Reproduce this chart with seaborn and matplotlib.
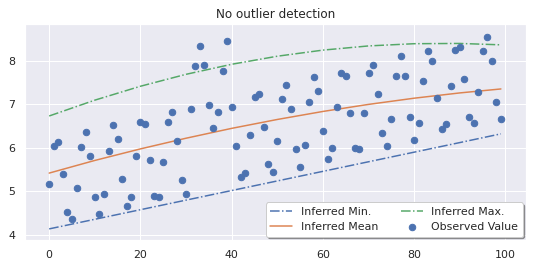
import numpy as np
import pandas as pd
import matplotlib
matplotlib.use("Agg")
import matplotlib.pyplot as plt
import seaborn as sns

# Observed values (x = 0..99)
obs_x = list(range(100))
obs_y = [5.18, 6.04, 6.13, 5.40, 4.52, 4.36, 5.07, 6.02, 6.36, 5.81,
         4.88, 4.47, 4.95, 5.93, 6.52, 6.20, 5.29, 4.66, 4.88, 5.81,
         6.59, 6.55, 5.72, 4.90, 4.88, 5.68, 6.60, 6.82, 6.16, 5.25,
         4.95, 6.90, 7.87, 8.33, 7.90, 6.98, 6.46, 6.82, 7.77, 8.46,
         6.93, 6.05, 5.32, 5.43, 6.30, 7.16, 7.23, 6.48, 5.62, 5.45,
         6.16, 7.12, 7.45, 6.88, 5.98, 5.57, 6.07, 7.05, 7.62, 7.30,
         6.39, 5.75, 6.00, 6.94, 7.71, 7.64, 6.80, 6.00, 5.98, 6.80,
         7.71, 7.91, 7.24, 6.35, 6.05, 6.66, 7.64, 8.10, 7.64, 6.70,
         6.19, 6.56, 7.54, 8.23, 8.00, 7.15, 6.42, 6.55, 7.41, 8.25,
         8.31, 7.57, 6.70, 6.56, 7.27, 8.23, 8.55, 7.98, 7.04, 6.65]

# Inferred curves read at sample positions
line_x = [0, 10, 20, 30, 40, 50, 60, 70, 80, 90, 99]
min_y = [4.14, 4.36, 4.58, 4.80, 5.02, 5.24, 5.46, 5.68, 5.90, 6.12, 6.32]
mean_y = [5.42, 5.71, 5.975, 6.22, 6.446, 6.65, 6.834, 6.996, 7.138, 7.259, 7.35]
max_y = [6.73, 7.093, 7.412, 7.686, 7.916, 8.101, 8.241, 8.337, 8.388, 8.394, 8.362]

title = "No outlier detection"

sns.set_theme(style="darkgrid")
fig, ax = plt.subplots(figsize=(539 / 72, 267 / 72), dpi=72)
fig.subplots_adjust(left=25 / 539, right=526 / 539, top=1 - 24 / 267, bottom=1 - 240 / 267)

pal = sns.color_palette()
lines_df = pd.DataFrame({"x": line_x, "min": min_y, "mean": mean_y, "max": max_y})

sns.lineplot(data=lines_df, x="x", y="min", ax=ax, color=pal[0], linestyle="-.",
             label="Inferred Min.", linewidth=1.5)
sns.lineplot(data=lines_df, x="x", y="mean", ax=ax, color=pal[1], linestyle="-",
             label="Inferred Mean", linewidth=1.5)
sns.lineplot(data=lines_df, x="x", y="max", ax=ax, color=pal[2], linestyle="-.",
             label="Inferred Max.", linewidth=1.5)
ax.scatter(obs_x, obs_y, color=pal[0], s=42, label="Observed Value", zorder=3)

ax.set_xlim(-5.3, 104.5)
ax.set_ylim(3.885, 8.84)
ax.set_xticks([0, 20, 40, 60, 80, 100])
ax.set_yticks([4, 5, 6, 7, 8])
ax.set_xlabel("")
ax.set_ylabel("")
ax.set_title(title, fontsize=12)
ax.tick_params(labelsize=11)

leg = ax.legend(loc="lower right", ncol=2, shadow=True, frameon=True,
                framealpha=1, facecolor="white", fontsize=11, borderaxespad=0.3)

fig.savefig("out.png", dpi=72)
